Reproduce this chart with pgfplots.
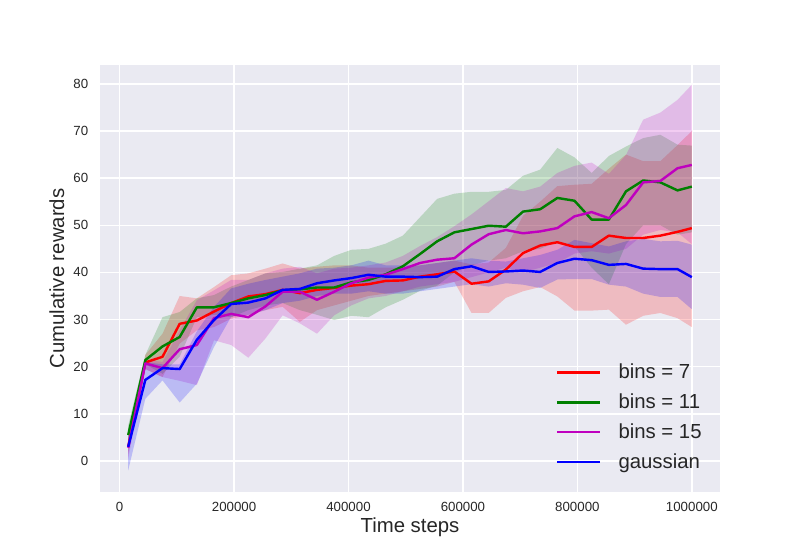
\documentclass[border=0pt]{standalone}
\usepackage{fontspec}
\setmainfont{Liberation Sans}
\usepackage{pgfplots}
\usepackage{pgfplotstable}
\pgfplotsset{compat=1.18}
\definecolor{bg}{HTML}{EAEAF2}
\definecolor{txt}{HTML}{262626}
\definecolor{mplr}{rgb}{1,0,0}
\definecolor{mplg}{rgb}{0,0.5,0}
\definecolor{mplm}{rgb}{0.75,0,0.75}
\definecolor{mplb}{rgb}{0,0,1}

% mean curves
\pgfplotstableread{
x red green mag blue
15000 3.0 5.5 2.8 3.0
45000 20.9 21.4 20.7 17.2
75000 22.1 24.3 19.7 19.7
105000 29.1 26.3 23.7 19.5
135000 29.8 32.6 24.6 25.7
165000 31.7 32.6 30.3 29.9
195000 33.5 33.5 31.2 33.3
225000 34.9 34.5 30.5 33.6
255000 35.4 35.2 32.8 34.5
285000 36.3 36.2 35.9 36.3
315000 35.6 36.4 35.9 36.5
345000 36.3 36.8 34.2 37.7
375000 36.7 36.8 35.9 38.3
405000 37.2 37.9 37.7 38.8
435000 37.5 38.4 38.9 39.5
465000 38.2 39.6 39.5 39.1
495000 38.3 41.3 40.7 39.1
525000 39.1 43.9 42.0 39.0
555000 39.6 46.6 42.7 39.1
585000 40.2 48.5 43.0 40.7
615000 37.6 49.2 45.9 41.3
645000 38.1 49.9 48.1 40.1
675000 40.6 49.7 49.0 40.2
705000 44.1 52.9 48.3 40.4
735000 45.7 53.4 48.7 40.1
765000 46.4 55.8 49.4 42.0
795000 45.4 55.2 51.9 42.9
825000 45.4 51.2 52.8 42.6
855000 47.8 51.2 51.5 41.6
885000 47.3 57.2 54.3 41.8
915000 47.3 59.5 59.1 40.8
945000 47.8 59.1 59.4 40.7
975000 48.6 57.4 62.1 40.7
1000000 49.4 58.2 62.8 39.0
}\meantab

% band outlines: upper edge left to right, then lower edge right to left
\pgfplotstableread{
x y
15000 4.5
45000 22.5
75000 27.0
105000 35.0
135000 34.5
165000 36.9
195000 39.4
225000 39.8
255000 40.8
285000 41.9
315000 40.8
345000 41.2
375000 41.5
405000 41.5
435000 41.0
465000 41.0
495000 41.0
525000 41.5
555000 42.0
585000 42.5
615000 41.7
645000 42.1
675000 45.2
705000 52.0
735000 55.0
765000 58.3
795000 58.6
825000 58.8
855000 62.0
885000 65.0
915000 63.6
945000 63.6
975000 67.0
1000000 70.0
1000000 28.4
975000 30.3
945000 31.4
915000 30.8
885000 28.9
855000 32.1
825000 31.9
795000 31.9
765000 34.9
735000 36.9
705000 36.0
675000 34.6
645000 31.4
615000 31.4
585000 38.0
555000 37.0
525000 36.5
495000 36.0
465000 35.5
435000 35.0
405000 34.0
375000 33.0
345000 32.0
315000 29.5
285000 32.7
255000 32.0
225000 30.9
195000 30.2
165000 28.4
135000 27.7
105000 24.9
75000 17.8
45000 19.5
15000 1.5
}\redband

\pgfplotstableread{
x y
15000 7.5
45000 22.5
75000 30.5
105000 31.6
135000 34.5
165000 35.2
195000 37.0
225000 38.4
255000 39.8
285000 40.1
315000 40.8
345000 41.5
375000 43.5
405000 44.8
435000 45.0
465000 46.1
495000 47.8
525000 51.7
555000 55.6
585000 56.7
615000 57.1
645000 57.1
675000 57.5
705000 60.5
735000 61.8
765000 66.4
795000 64.4
825000 61.1
855000 64.7
885000 66.7
915000 68.5
945000 69.2
975000 67.1
1000000 66.9
1000000 48.5
975000 48.0
945000 50.0
915000 50.0
885000 46.0
855000 37.5
825000 41.0
795000 45.5
765000 46.5
735000 45.0
705000 44.5
675000 43.0
645000 42.5
615000 41.5
585000 40.0
555000 37.2
525000 36.1
495000 34.2
465000 32.6
435000 30.5
405000 30.8
375000 29.9
345000 31.0
315000 32.0
285000 33.5
255000 33.0
225000 32.0
195000 30.5
165000 31.0
135000 30.5
105000 22.1
75000 18.5
45000 20.5
15000 4.0
}\greenband

\pgfplotstableread{
x y
15000 5.0
45000 21.5
75000 21.0
105000 27.7
135000 34.1
165000 36.2
195000 38.4
225000 38.4
255000 39.8
285000 40.8
315000 41.2
345000 39.8
375000 40.8
405000 41.0
435000 41.5
465000 42.1
495000 43.5
525000 45.6
555000 47.5
585000 49.8
615000 52.3
645000 55.1
675000 57.9
705000 57.2
735000 58.2
765000 61.1
795000 62.6
825000 63.3
855000 60.9
885000 64.9
915000 72.4
945000 73.9
975000 76.6
1000000 79.8
1000000 46.0
975000 48.5
945000 49.0
915000 48.0
885000 45.0
855000 44.0
825000 44.5
795000 44.0
765000 42.0
735000 41.0
705000 40.0
675000 41.0
645000 40.0
615000 39.0
585000 38.0
555000 37.5
525000 37.0
495000 36.0
465000 35.0
435000 34.5
405000 33.0
375000 30.9
345000 27.0
315000 29.2
285000 30.9
255000 26.0
225000 21.9
195000 24.6
165000 25.6
135000 16.1
105000 17.0
75000 17.8
45000 19.5
15000 0.5
}\magband

\pgfplotstableread{
x y
15000 5.5
45000 21.0
75000 20.5
105000 20.5
135000 27.5
165000 32.7
195000 36.6
225000 37.6
255000 38.4
285000 39.1
315000 39.8
345000 40.8
375000 41.0
405000 41.5
435000 42.5
465000 41.5
495000 41.5
525000 41.5
555000 42.0
585000 42.5
615000 43.0
645000 42.5
675000 42.3
705000 43.0
735000 43.7
765000 44.8
795000 46.9
825000 46.2
855000 45.5
885000 46.6
915000 47.1
945000 46.6
975000 46.7
1000000 45.9
1000000 32.2
975000 34.8
945000 34.8
915000 35.5
885000 37.0
855000 37.4
825000 38.6
795000 38.6
765000 38.5
735000 36.7
705000 37.4
675000 37.7
645000 37.0
615000 37.5
585000 37.0
555000 36.5
525000 36.0
495000 35.5
465000 35.5
435000 36.0
405000 35.5
375000 35.5
345000 35.0
315000 34.0
285000 33.5
255000 32.0
225000 31.0
195000 30.6
165000 24.2
135000 16.4
105000 12.4
75000 17.1
45000 13.2
15000 -2.0
}\blueband

\begin{document}
\begin{tikzpicture}
\path[use as bounding box] (-72.27pt,-41.92pt) rectangle (505.89pt,355.57pt);
\begin{axis}[
  scale only axis, width=448.07pt, height=308.59pt,
  xmin=-34250, xmax=1049250, ymin=-6.58, ymax=84.0,
  axis background/.style={fill=bg},
  axis line style={draw=none},
  grid=major, major grid style={white, line width=1pt},
  major tick length=0pt, tick style={draw=none},
  xtick={0,200000,400000,600000,800000,1000000},
  ytick={0,10,...,80},
  scaled x ticks=false,
  /pgf/number format/assume math mode=true,
  xticklabel style={/pgf/number format/fixed, /pgf/number format/precision=0, /pgf/number format/1000 sep={}, yshift=-3.6pt},
  yticklabel style={xshift=-5pt},
  ticklabel style={font=\fontsize{9.6}{11.5}\selectfont, text=txt},
  xlabel={Time steps}, ylabel={Cumulative rewards},
  label style={font=\fontsize{14.7}{17}\selectfont, text=txt},
  xlabel style={at={(axis description cs:0.5,-0.082)}, anchor=center},
  ylabel style={at={(axis description cs:-0.0694,0.5)}, anchor=center},
  legend cell align=left,
  legend style={at={(axis description cs:0.982,0.037)}, anchor=south east,
    draw=none, fill=none, font=\fontsize{14.7}{17}\selectfont, text=txt,
    row sep=5.4pt,
    /tikz/every odd column/.append style={column sep=10.5pt}},
  legend image code/.code={\draw[#1] (0pt,0pt) -- (31pt,0pt);},
]
\addplot[fill=mplr, fill opacity=0.2, draw=none, forget plot] table[x=x, y=y] {\redband};
\addplot[fill=mplg, fill opacity=0.2, draw=none, forget plot] table[x=x, y=y] {\greenband};
\addplot[fill=mplm, fill opacity=0.2, draw=none, forget plot] table[x=x, y=y] {\magband};
\addplot[fill=mplb, fill opacity=0.2, draw=none, forget plot] table[x=x, y=y] {\blueband};

\addplot[mplr, line width=1.75pt, line join=round] table[x=x, y=red] {\meantab};
\addlegendentry{bins = 7}
\addplot[mplg, line width=1.75pt, line join=round] table[x=x, y=green] {\meantab};
\addlegendentry{bins = 11}
\addplot[mplm, line width=1.75pt, line join=round] table[x=x, y=mag] {\meantab};
\addlegendentry{bins = 15}
\addplot[mplb, line width=1.75pt, line join=round] table[x=x, y=blue] {\meantab};
\addlegendentry{gaussian}
\end{axis}
\end{tikzpicture}
\end{document}
